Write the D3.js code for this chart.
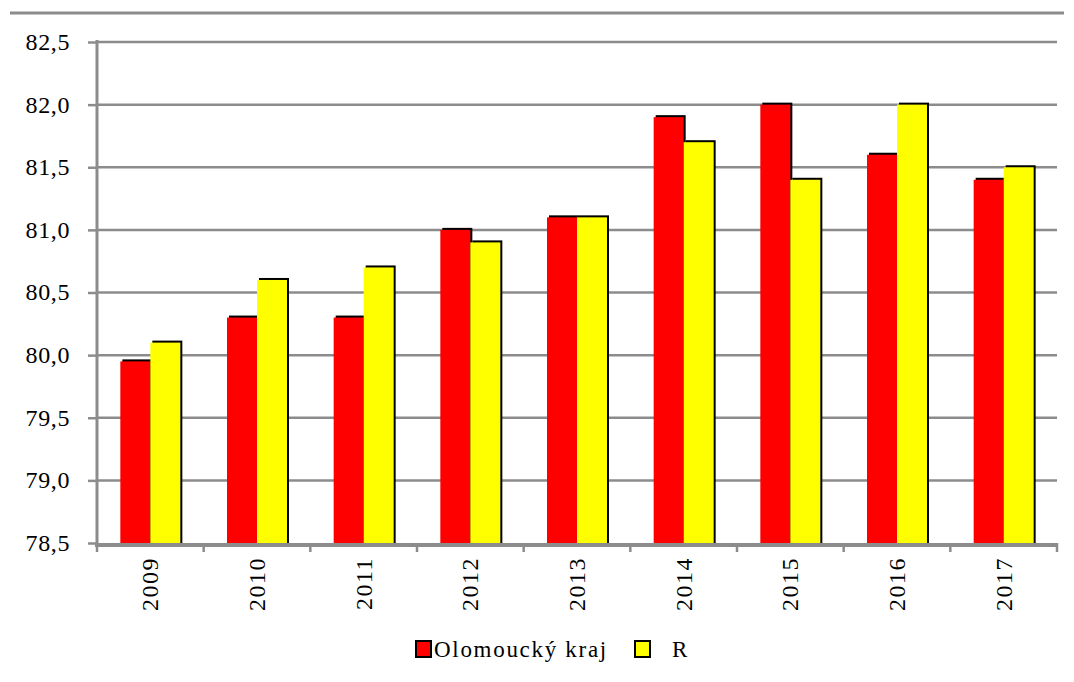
<!DOCTYPE html>
<html><head><meta charset="utf-8">
<script src="https://cdn.jsdelivr.net/npm/d3@7"></script>
</head><body style="margin:0">
<svg id="c" width="1074" height="682"></svg>
<script>
const years = ["2009","2010","2011","2012","2013","2014","2015","2016","2017"];
const olomouc = [79.95,80.3,80.3,81.0,81.1,81.9,82.0,81.6,81.4];
const cr = [80.1,80.6,80.7,80.9,81.1,81.7,81.4,82.0,81.5];
const seriesNames = ["Olomoucký kraj","R"];
const yTicks = [78.5,79.0,79.5,80.0,80.5,81.0,81.5,82.0,82.5];

const FONT = '"Liberation Serif"';
const svg = d3.select("#c");
const m = {l:97, r:1057, t:42, b:543};
const x = d3.scaleBand().domain(years).range([m.l, m.r]);
const y = d3.scaleLinear().domain([78.5, 82.5]).range([m.b, m.t]);
const fmt = d => d3.format(".1f")(d).replace(".", ",");

svg.append("rect").attr("width",1074).attr("height",682).attr("fill","#fff");

// top rule
svg.append("line").attr("x1",10).attr("x2",1064).attr("y1",13).attr("y2",13)
  .attr("stroke","#8c8c8c").attr("stroke-width",3);

// gridlines
svg.append("g").selectAll("line").data(yTicks.slice(1)).join("line")
  .attr("x1",m.l).attr("x2",m.r).attr("y1",d=>y(d)).attr("y2",d=>y(d))
  .attr("stroke","#8c8c8c").attr("stroke-width",2.5);

// y axis
const ya = svg.append("g").attr("transform",`translate(${m.l},0)`)
  .call(d3.axisLeft(y).tickValues(yTicks).tickFormat(fmt).tickSize(9).tickPadding(16));
ya.select(".domain").remove();
ya.selectAll(".tick line").attr("stroke","#8c8c8c").attr("stroke-width",2.5);
ya.selectAll(".tick text").remove();
svg.append("g").selectAll("text").data(yTicks).join("text")
  .attr("x", m.l-27).attr("y", d=>y(d)).attr("dy","0.33em").attr("text-anchor","end")
  .style("font-family",FONT).style("font-size","24px").style("letter-spacing","0.6px").attr("fill","#000")
  .text(fmt);
svg.append("line").attr("x1",m.l).attr("x2",m.l).attr("y1",m.t-2).attr("y2",m.b)
  .attr("stroke","#8c8c8c").attr("stroke-width",3);

// bars
const bw = 30;
const series = [olomouc, cr];
const colors = ["#ff0000","#ffff00"];
series.forEach((vals, si) => {
  const g = svg.append("g");
  const data = years.map((yr,i)=>({yr, v: vals[i]}));
  const bx = d => x(d.yr) + x.bandwidth()/2 - bw + si*bw;
  g.selectAll("rect.sh").data(data).join("rect").attr("class","sh")
    .attr("x", d=>bx(d)+2).attr("y", d=>y(d.v)-2).attr("width",bw).attr("height", d=>m.b-y(d.v)+2)
    .attr("fill","#000");
  g.selectAll("rect.b").data(data).join("rect").attr("class","b")
    .attr("x", d=>bx(d)).attr("y", d=>y(d.v)).attr("width",bw).attr("height", d=>m.b-y(d.v))
    .attr("fill",colors[si]);
});

// x axis
svg.append("line").attr("x1",m.l-2).attr("x2",m.r).attr("y1",m.b+2).attr("y2",m.b+2)
  .attr("stroke","#8c8c8c").attr("stroke-width",4);
svg.append("g").selectAll("line").data(d3.range(years.length+1)).join("line")
  .attr("x1",i=>m.l+i*x.step()).attr("x2",i=>m.l+i*x.step())
  .attr("y1",m.b).attr("y2",m.b+9).attr("stroke","#8c8c8c").attr("stroke-width",2.5);
svg.append("g").selectAll("text").data(years).join("text")
  .attr("transform", d=>`translate(${x(d)+x.bandwidth()/2+8},557) rotate(-90)`)
  .attr("text-anchor","end")
  .style("font-family",FONT).style("font-size","24px").style("letter-spacing","1.5px").attr("fill","#000")
  .text(d=>d);

// legend
const lg = svg.append("g");
lg.append("rect").attr("x",416).attr("y",641).attr("width",15).attr("height",16)
  .attr("fill","#ff0000").attr("stroke","#000").attr("stroke-width",2);
lg.append("text").attr("x",434).attr("y",657).style("font-family",FONT).style("font-size","23px")
  .style("letter-spacing","1.7px").text(seriesNames[0]);
lg.append("rect").attr("x",635).attr("y",641).attr("width",15).attr("height",16)
  .attr("fill","#ffff00").attr("stroke","#000").attr("stroke-width",2);
lg.append("text").attr("x",672).attr("y",657).style("font-family",FONT).style("font-size","23px").text(seriesNames[1]);
</script>
</body></html>
